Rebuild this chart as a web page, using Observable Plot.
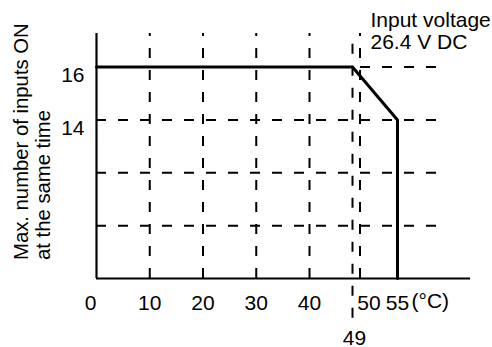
<!DOCTYPE html>
<html><head><meta charset="utf-8">
<style>
body{margin:0;background:#fff;}
svg{display:block;}
</style>
<script src="https://cdn.jsdelivr.net/npm/d3@7"></script>
<script src="https://cdn.jsdelivr.net/npm/@observablehq/plot@0.6"></script>
</head><body><div id="chart"></div>
<script>
// Derating curve: temperature (°C) vs. max. number of inputs ON
const tempC = [0, 49, 55, 55];
const maxInputs = [16, 16, 14, 8];
// axis ranges (data units)
const yMin = 8, yMax = 17.27;
const xMax = 68.7, gridEnd = 62.7;
// grid & labels
const yGrid = [10, 12, 14, 16];
const xGrid = [10, 20, 30, 40, 50];
const xMarker = [49];
const yTickLabels = [14, 16];
const xTickLabels = [10, 20, 30, 40, 55];
const xZeroLabel = [0];
const xFiftyLabel = [50];
const unitLabel = ["(°C)"];
const annotation = [{x: 51.4, y: 16.7, text: "Input voltage\n26.4 V DC"}];
const yTitle = ["Max. number of inputs ON", "at the same time"];

const data = tempC.map((t, i) => ({t, n: maxInputs[i]}));
const font = "'Liberation Sans', Arial, Helvetica, sans-serif";
const dash = {stroke: "#000", strokeWidth: 2, strokeDasharray: "10,12"};
const fs = 21;

const plot = Plot.plot({
  width: 492,
  height: 347,
  marginLeft: 96,
  marginRight: 22,
  marginTop: 33,
  marginBottom: 69,
  style: {fontFamily: font, fontSize: "21px", color: "#000", background: "#fff"},
  x: {type: "linear", domain: [0, 40, 49, 55, xMax], range: [96, 309, 352, 397, 470], axis: null},
  y: {domain: [yMin, yMax], axis: null},
  marks: [
    Plot.ruleY(yGrid, {x1: 0, x2: gridEnd, ...dash}),
    Plot.ruleX(xGrid, {y1: yMin, y2: yMax, ...dash}),
    Plot.ruleX(xMarker, {y1: 6.5, y2: yMax, ...dash}),
    Plot.ruleX([0], {y1: yMin, y2: yMax, stroke: "#000", strokeWidth: 2.2}),
    Plot.ruleY([yMin], {x1: 0, x2: xMax, stroke: "#000", strokeWidth: 2.2}),
    Plot.line(data, {x: "t", y: "n", stroke: "#000", strokeWidth: 3, strokeLinejoin: "miter"}),
    Plot.text(yTickLabels, {x: 0, y: d => d, text: d => String(d), textAnchor: "end", lineAnchor: "bottom", dx: -12, dy: 15, fontSize: fs, fill: "#000"}),
    Plot.text(xTickLabels, {x: d => d, y: yMin, text: d => String(d), textAnchor: "middle", lineAnchor: "bottom", dy: 31, fontSize: fs, fill: "#000"}),
    Plot.text(xZeroLabel, {x: d => d, y: yMin, text: d => String(d), textAnchor: "middle", lineAnchor: "bottom", dx: -6, dy: 31, fontSize: fs, fill: "#000"}),
    Plot.text(xFiftyLabel, {x: d => d, y: yMin, text: d => String(d), textAnchor: "middle", lineAnchor: "bottom", dx: 9, dy: 31, fontSize: fs, fill: "#000"}),
    Plot.text(unitLabel, {x: 55, y: yMin, text: d => d, textAnchor: "start", lineAnchor: "bottom", dx: 14, dy: 29, fontSize: fs, fill: "#000"}),
    Plot.text(xMarker, {x: d => d, y: yMin, text: d => String(d), textAnchor: "middle", lineAnchor: "bottom", dx: 2, dy: 66, fontSize: fs, fill: "#000"}),
    Plot.text(annotation, {x: "x", y: "y", text: "text", textAnchor: "start", lineAnchor: "bottom", lineHeight: 1.05, fontSize: fs, fill: "#000"})
  ]
});

// rotated two-line y-axis title
const svg = d3.select(plot);
const ys = plot.scale("y");
const titleY = ys.apply(yMin) - 18;
yTitle.forEach((line, i) => {
  svg.append("text")
    .attr("transform", `translate(${28 + i * 22},${titleY}) rotate(-90)`)
    .attr("text-anchor", "start")
    .attr("font-family", font)
    .attr("font-size", 20.3)
    .attr("fill", "#000")
    .text(line);
});

document.getElementById("chart").append(plot);
</script>
</body></html>
